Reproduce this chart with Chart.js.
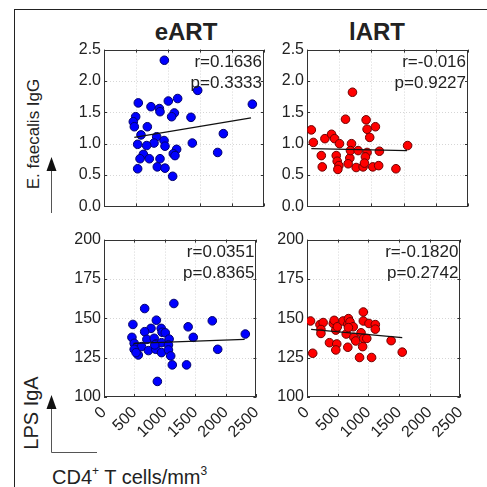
<!DOCTYPE html>
<html>
<head>
<meta charset="utf-8">
<script src="https://cdn.jsdelivr.net/npm/chart.js@4.4.1/dist/chart.umd.min.js"></script>
<style>
body { margin: 0; background: #fff; }
#wrap { position: relative; width: 487px; height: 487px; overflow: hidden; font-family: Arial, "Liberation Sans", sans-serif; color: #222; }
.cv { position: absolute; }
.lbl { position: absolute; white-space: nowrap; transform: translate(-50%, -50%); }
.rot { transform: translate(-50%, -50%) rotate(-90deg); }
sup { font-size: 60%; vertical-align: 0.7em; line-height: 0; }
</style>
</head>
<body>
<div id="wrap">
    <div style="position:absolute;left:14px;top:9px;width:490px;height:490px;border-left:1px solid #222;border-top:1px solid #222;"></div>

    <div class="lbl" style="left:186px;top:32px;font-size:24px;font-weight:bold;">eART</div>
    <div class="lbl" style="left:377px;top:32px;font-size:24px;font-weight:bold;">lART</div>

    <div class="lbl rot" style="left:34px;top:134px;font-size:17px;">E. faecalis IgG</div>
    <div class="lbl rot" style="left:31px;top:413px;font-size:20px;">LPS IgA</div>
    <div class="lbl" style="left:52px;top:477px;font-size:20px;transform:translate(0,-50%);">CD4<sup>+</sup> T cells/mm<sup>3</sup></div>

    <svg width="487" height="487" style="position:absolute;left:0;top:0;">
        <line x1="51.5" y1="213" x2="51.5" y2="168" stroke="#555" stroke-width="1"/>
        <polygon points="51.5,157 46.5,171 56.5,171" fill="#111"/>
        <polyline points="51.5,405 51.5,452.5 97,452.5" fill="none" stroke="#555" stroke-width="1"/>
        <polygon points="51.5,395 46.5,409 56.5,409" fill="#111"/>
    </svg>

    <canvas id="c1" class="cv"></canvas>
    <canvas id="c2" class="cv"></canvas>
    <canvas id="c3" class="cv"></canvas>
    <canvas id="c4" class="cv"></canvas>
</div>

<script>
// ticks
var xTicks = [0, 500, 1000, 1500, 2000, 2500];
var iggTicks = [0, 0.5, 1.0, 1.5, 2.0, 2.5];
var lpsTicks = [100, 125, 150, 175, 200];

// eART - E. faecalis IgG
var eartCd4Igg = [943, 1464, 2318, 536, 734, 865, 875, 1005, 1151, 1099, 1057, 495, 458, 474, 677, 1359,
    578, 823, 938, 953, 781, 667, 526, 1380, 1865, 1776, 1135, 1083, 1109, 615, 563, 708, 875, 833, 953, 526, 1073];
var eartIgg = [2.33, 1.85, 1.63, 1.65, 1.59, 1.56, 1.51, 1.68, 1.72, 1.49, 1.43, 1.43, 1.35, 1.27, 1.27, 1.42,
    1.14, 1.11, 1.05, 0.96, 1.01, 0.97, 0.99, 1.01, 1.16, 0.86, 0.91, 0.84, 0.81, 0.83, 0.76, 0.76, 0.76, 0.63, 0.61, 0.60, 0.48];
var eartIggFitX = [474, 2297];
var eartIggFitY = [1.10, 1.41];
var eartIggStats = ["r=0.1636", "p=0.3333"];

// lART - E. faecalis IgG
var lartCd4Igg = [67, 98, 278, 381, 428, 505, 222, 237, 598, 706, 691, 454, 469, 495, 479, 665, 639, 675, 794,
    763, 871, 918, 933, 974, 1062, 933, 907, 892, 1021, 1124, 1113, 1381, 1562];
var lartIgg = [1.22, 1.02, 1.08, 1.15, 1.08, 1.00, 0.81, 0.63, 1.39, 1.82, 1.00, 0.81, 0.72, 0.65, 0.59, 0.77, 0.68, 0.89, 0.89,
    0.62, 0.63, 1.38, 1.23, 1.10, 1.27, 0.86, 0.79, 0.69, 0.63, 0.88, 0.65, 0.60, 0.97];
var lartIggFitX = [67, 1552];
var lartIggFitY = [0.92, 0.89];
var lartIggStats = ["r=-0.016", "p=0.9227"];

// eART - LPS IgA
var eartCd4Lps = [1146, 667, 1776, 859, 474, 1380, 771, 667, 938, 953, 1005, 458, 495, 703, 823, 849, 943, 1068,
    1057, 1464, 2318, 536, 615, 495, 563, 729, 849, 943, 1057, 1094, 1865, 1120, 1354, 875, 833, 526];
var eartLps = [159.4, 156.2, 148.4, 148.8, 146.1, 144.6, 143.6, 141.5, 143.6, 141.1, 140.8, 137.9, 134.1, 136.6, 137.3, 133.7, 134.5, 136.8,
    133.1, 137.9, 140.0, 131.6, 132.0, 130.3, 126.7, 129.5, 130.3, 128.2, 129.9, 126.1, 130.3, 120.4, 120.4, 109.9, 133.1, 128.2];
var eartLpsFitX = [484, 2307];
var eartLpsFitY = [134.1, 136.6];
var eartLpsStats = ["r=0.0351", "p=0.8365"];

// lART - LPS IgA
var lartCd4Lps = [57, 93, 211, 263, 227, 227, 366, 428, 443, 469, 495, 485, 469, 588, 639, 665, 675, 701, 753, 675,
    763, 794, 665, 856, 881, 918, 918, 907, 923, 974, 1010, 1052, 1113, 1113, 1371, 1552];
var lartLps = [148.3, 127.8, 146.0, 147.3, 142.9, 140.4, 134.5, 146.7, 148.7, 142.5, 144.6, 133.7, 129.9, 148.3, 140.0, 146.2, 149.8, 147.7, 144.6, 144.1,
    137.9, 135.6, 131.6, 125.1, 140.8, 154.0, 148.3, 132.0, 137.2, 137.2, 146.7, 125.1, 146.0, 143.1, 135.8, 128.5];
var lartLpsFitX = [67, 1552];
var lartLpsFitY = [142.9, 137.7];
var lartLpsStats = ["r=-0.1820", "p=0.2742"];

var FONT = "Arial, 'Liberation Sans', sans-serif";

var boxPlugin = {
    id: 'box',
    beforeDatasetsDraw: function (chart) {
        var ctx = chart.ctx;
        var a = chart.chartArea;
        var x = chart.scales.x;
        var y = chart.scales.y;
        ctx.save();
        ctx.lineWidth = 1;
        ctx.strokeStyle = '#d6d6d6';
        ctx.setLineDash([1, 2]);
        x.ticks.forEach(function (t) {
            var px = Math.round(x.getPixelForValue(t.value)) + 0.5;
            if (px > a.left + 2 && px < a.right - 2) {
                ctx.beginPath(); ctx.moveTo(px, a.top); ctx.lineTo(px, a.bottom); ctx.stroke();
            }
        });
        y.ticks.forEach(function (t) {
            var py = Math.round(y.getPixelForValue(t.value)) + 0.5;
            if (py > a.top + 2 && py < a.bottom - 2) {
                ctx.beginPath(); ctx.moveTo(a.left, py); ctx.lineTo(a.right, py); ctx.stroke();
            }
        });
        ctx.setLineDash([]);
        ctx.strokeStyle = '#333';
        ctx.strokeRect(Math.round(a.left) + 0.5, Math.round(a.top) + 0.5, Math.round(a.width) - 1, Math.round(a.height) - 1);
        // inward tick marks
        x.ticks.forEach(function (t) {
            var px = Math.round(x.getPixelForValue(t.value)) + 0.5;
            ctx.beginPath();
            ctx.moveTo(px, a.bottom); ctx.lineTo(px, a.bottom - 3);
            ctx.moveTo(px, a.top); ctx.lineTo(px, a.top + 3);
            ctx.stroke();
        });
        y.ticks.forEach(function (t) {
            var py = Math.round(y.getPixelForValue(t.value)) + 0.5;
            ctx.beginPath();
            ctx.moveTo(a.left, py); ctx.lineTo(a.left + 3, py);
            ctx.moveTo(a.right, py); ctx.lineTo(a.right - 3, py);
            ctx.stroke();
        });
        ctx.restore();
    },
    afterDatasetsDraw: function (chart, args, opts) {
        var ctx = chart.ctx;
        var a = chart.chartArea;
        ctx.save();
        ctx.fillStyle = '#222';
        ctx.font = '17px ' + FONT;
        ctx.textAlign = 'right';
        ctx.textBaseline = 'middle';
        ctx.fillText(opts.lines[0], a.right - 2, a.top + 13);
        ctx.fillText(opts.lines[1], a.right - 2, a.top + 34);
        ctx.restore();
    }
};

function toPoints(xs, ys) {
    var pts = [];
    for (var i = 0; i < xs.length; i++) {
        pts.push({ x: xs[i], y: ys[i] });
    }
    return pts;
}

function panel(id, box, xs, ys, fitX, fitY, stats, yTicks, dec, fill, edge, showX) {
    var cv = document.getElementById(id);
    var extra = showX ? 60 : 12;
    cv.width = box.r - box.l + 72;
    cv.height = box.b - box.t + 12 + extra;
    cv.style.left = (box.l - 60) + 'px';
    cv.style.top = (box.t - 12) + 'px';

    new Chart(cv, {
        type: 'scatter',
        data: {
            datasets: [{
                type: 'line',
                data: toPoints(fitX, fitY),
                borderColor: '#111',
                borderWidth: 1.3,
                pointRadius: 0,
                fill: false
            }, {
                data: toPoints(xs, ys),
                backgroundColor: fill,
                borderColor: edge,
                borderWidth: 1,
                pointRadius: 4.3
            }]
        },
        options: {
            responsive: false,
            animation: false,
            events: [],
            layout: { padding: { left: 0, top: 12, right: 12, bottom: showX ? 0 : 12 } },
            plugins: {
                legend: { display: false },
                tooltip: { enabled: false },
                box: { lines: stats }
            },
            scales: {
                x: {
                    type: 'linear',
                    min: xTicks[0],
                    max: xTicks[xTicks.length - 1],
                    afterBuildTicks: function (s) { s.ticks = xTicks.map(function (v) { return { value: v }; }); },
                    grid: { display: false, drawTicks: false, tickLength: 0 },
                    border: { display: false },
                    ticks: {
                        display: showX,
                        autoSkip: false,
                        maxRotation: 45,
                        minRotation: 45,
                        padding: 6,
                        color: '#222',
                        font: { family: FONT, size: 16 },
                        callback: function (v) { return String(v); }
                    },
                    afterFit: function (s) { s.height = showX ? 60 : 0; }
                },
                y: {
                    type: 'linear',
                    min: yTicks[0],
                    max: yTicks[yTicks.length - 1],
                    afterBuildTicks: function (s) { s.ticks = yTicks.map(function (v) { return { value: v }; }); },
                    grid: { display: false, drawTicks: false, tickLength: 0 },
                    border: { display: false },
                    ticks: {
                        padding: 3,
                        color: '#222',
                        font: { family: FONT, size: 16 },
                        callback: function (v) { return Number(v).toFixed(dec); }
                    },
                    afterFit: function (s) { s.width = 60; }
                }
            }
        },
        plugins: [boxPlugin]
    });
}

panel('c1', { l: 104, r: 264, t: 49, b: 207 }, eartCd4Igg, eartIgg, eartIggFitX, eartIggFitY, eartIggStats, iggTicks, 1, '#0000ff', '#00006e', false);
panel('c2', { l: 307, r: 468, t: 49, b: 207 }, lartCd4Igg, lartIgg, lartIggFitX, lartIggFitY, lartIggStats, iggTicks, 1, '#ff0000', '#6e0000', false);
panel('c3', { l: 104, r: 264, t: 239, b: 397 }, eartCd4Lps, eartLps, eartLpsFitX, eartLpsFitY, eartLpsStats, lpsTicks, 0, '#0000ff', '#00006e', true);
panel('c4', { l: 307, r: 468, t: 239, b: 397 }, lartCd4Lps, lartLps, lartLpsFitX, lartLpsFitY, lartLpsStats, lpsTicks, 0, '#ff0000', '#6e0000', true);
</script>
</body>
</html>
